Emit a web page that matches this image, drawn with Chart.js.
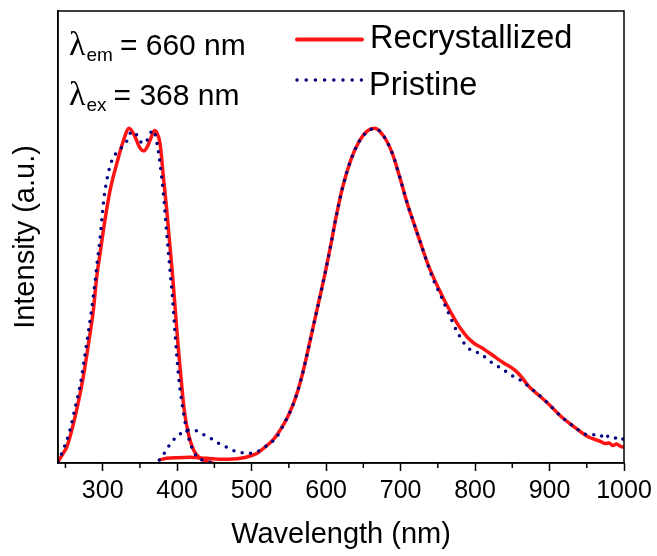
<!DOCTYPE html>
<html>
<head>
<meta charset="utf-8">
<title>Excitation and emission spectra</title>
<script src="https://cdn.jsdelivr.net/npm/chart.js@4.4.1/dist/chart.umd.min.js"></script>
<style>
  html, body { margin: 0; padding: 0; background: #fff; }
  #wrap { position: relative; width: 657px; height: 556px; }
</style>
</head>
<body>
<div id="wrap"><canvas id="spectra"></canvas></div>
<script>
// Wavelengths (nm) and normalised intensities for each spectrum
const recExWl = [240, 247, 252, 265, 274, 281, 287.5, 292, 296.5, 303, 310, 319, 328, 335.5, 343.5, 349, 355.5, 360, 364, 369.5, 373, 377, 381.5, 386, 390, 394, 397.5, 401, 405, 409.5, 415, 422, 431, 440, 449];
const recExI  = [0.004, 0.029, 0.049, 0.158, 0.258, 0.357, 0.457, 0.556, 0.626, 0.725, 0.815, 0.895, 0.964, 1.0, 0.974, 0.945, 0.932, 0.945, 0.966, 0.993, 0.985, 0.954, 0.855, 0.755, 0.656, 0.556, 0.457, 0.357, 0.258, 0.158, 0.088, 0.039, 0.014, 0.004, 0.0];

const priExWl = [240, 248, 256, 263, 270, 278.5, 285, 290, 293, 296, 300, 302.5, 306.5, 311, 317.5, 324.5, 332.5, 339, 345, 350, 354.5, 359, 363, 367, 370, 373, 377, 381.5, 386, 390, 394, 397.5, 402, 406.5, 411, 417.5, 426.5, 435, 449];
const priExI  = [0.004, 0.045, 0.098, 0.165, 0.235, 0.357, 0.457, 0.546, 0.606, 0.66, 0.755, 0.805, 0.855, 0.895, 0.924, 0.94, 0.962, 0.99, 0.982, 0.962, 0.954, 0.962, 0.98, 0.994, 0.985, 0.954, 0.895, 0.805, 0.686, 0.586, 0.487, 0.377, 0.258, 0.178, 0.118, 0.059, 0.019, 0.008, 0.0];

const recEmWl = [376, 386, 400, 418, 440, 462, 485, 498, 508, 516, 530, 543, 551, 559, 567, 575, 583, 591, 599.5, 606, 613, 622, 633, 644, 655.5, 665, 678, 689, 700, 709, 718, 727, 736, 745, 754, 763, 772, 781, 790, 799, 812, 826, 839, 853, 862, 871, 880, 898, 916, 933, 951, 969, 975, 980, 985, 990, 995, 1000];
const recEmI  = [0.009, 0.014, 0.016, 0.017, 0.014, 0.011, 0.014, 0.021, 0.03, 0.044, 0.072, 0.115, 0.15, 0.195, 0.255, 0.33, 0.41, 0.49, 0.576, 0.648, 0.73, 0.822, 0.904, 0.959, 0.992, 1.0, 0.974, 0.924, 0.845, 0.775, 0.715, 0.656, 0.598, 0.55, 0.508, 0.468, 0.432, 0.4, 0.375, 0.357, 0.34, 0.318, 0.298, 0.278, 0.258, 0.232, 0.213, 0.178, 0.138, 0.108, 0.079, 0.064, 0.058, 0.06, 0.052, 0.057, 0.05, 0.047];

const priEmWl = [376, 380, 384, 393, 404, 412, 420, 431, 437, 445, 453, 462.5, 471, 480, 490, 498, 505, 512, 518, 525, 533, 543, 551, 559, 567, 575, 583, 591, 599.5, 606, 613, 622, 633, 644, 655.5, 663, 670, 678, 689, 700, 709, 718, 727, 736, 745, 754, 765, 776, 790, 808, 821, 835, 848, 862, 875, 885, 898, 916, 933, 950, 960, 968, 974, 980, 987, 993, 1000];
const priEmI  = [0.009, 0.02, 0.034, 0.064, 0.087, 0.097, 0.1, 0.09, 0.083, 0.074, 0.062, 0.052, 0.042, 0.034, 0.03, 0.029, 0.032, 0.039, 0.048, 0.059, 0.076, 0.115, 0.15, 0.195, 0.255, 0.33, 0.41, 0.49, 0.576, 0.648, 0.73, 0.822, 0.904, 0.959, 0.99, 0.998, 0.995, 0.974, 0.924, 0.845, 0.775, 0.715, 0.656, 0.596, 0.542, 0.5, 0.445, 0.392, 0.345, 0.325, 0.302, 0.283, 0.263, 0.246, 0.223, 0.205, 0.178, 0.138, 0.108, 0.085, 0.084, 0.078, 0.089, 0.076, 0.074, 0.08, 0.069];

const seriesNames = ['Recrystallized', 'Pristine'];
const majorTicks = [300, 400, 500, 600, 700, 800, 900, 1000];
const minorTicks = [250, 350, 450, 550, 650, 750, 850, 950];

const RED = '#ff1414';
const NAVY = '#000080';
const FONT = '"Liberation Sans", Arial, sans-serif';
const GREEK = '"Liberation Serif", "Times New Roman", serif';

const toPoints = (xs, ys) => xs.map((x, i) => ({ x, y: ys[i] }));

const solid = (data) => ({
  data,
  borderColor: RED,
  borderWidth: 3.5,
  pointRadius: 0,
  cubicInterpolationMode: 'monotone',
  fill: false,
});

const dotted = (data) => ({
  data,
  borderColor: NAVY,
  borderWidth: 3.5,
  borderDash: [0, 8.5],
  borderCapStyle: 'round',
  pointRadius: 0,
  cubicInterpolationMode: 'monotone',
  fill: false,
});

// Box around the plot area plus the short minor ticks on the x axis
const framePlugin = {
  id: 'frame',
  afterDatasetsDraw(chart) {
    const { ctx, chartArea: a, scales: { x } } = chart;
    ctx.save();
    ctx.strokeStyle = '#000';
    ctx.lineWidth = 1.5;
    ctx.strokeRect(a.left, a.top, a.right - a.left, a.bottom - a.top);
    ctx.beginPath();
    minorTicks.forEach(v => {
      const px = x.getPixelForValue(v);
      ctx.moveTo(px, a.bottom);
      ctx.lineTo(px, a.bottom + 5);
    });
    ctx.stroke();
    ctx.restore();
  }
};

// Wavelength notes and the legend in the upper part of the plot
const notesPlugin = {
  id: 'notes',
  afterDraw(chart) {
    const { ctx } = chart;
    ctx.save();
    ctx.fillStyle = '#000';
    ctx.textBaseline = 'alphabetic';
    ctx.textAlign = 'left';

    const note = (y, sub, rest) => {
      ctx.font = `34px ${GREEK}`;
      ctx.fillText('λ', 69, y);
      const subX = 69 + ctx.measureText('λ').width + 1;
      ctx.font = `19px ${FONT}`;
      ctx.fillText(sub, subX, y + 6.5);
      const restX = subX + ctx.measureText(sub).width + 7;
      ctx.font = `30px ${FONT}`;
      ctx.fillText(rest, restX, y);
    };
    note(54.5, 'em', '= 660 nm');
    note(104.5, 'ex', '= 368 nm');

    // legend samples
    ctx.lineCap = 'round';
    ctx.strokeStyle = RED;
    ctx.lineWidth = 4;
    ctx.beginPath();
    ctx.moveTo(297, 39.5);
    ctx.lineTo(362, 39.5);
    ctx.stroke();

    ctx.strokeStyle = NAVY;
    ctx.lineWidth = 3.5;
    ctx.setLineDash([0, 9.2]);
    ctx.beginPath();
    ctx.moveTo(297, 80);
    ctx.lineTo(362, 80);
    ctx.stroke();
    ctx.setLineDash([]);

    ctx.font = `32.5px ${FONT}`;
    ctx.fillText(seriesNames[0], 370, 48);
    ctx.fillText(seriesNames[1], 369, 95);
    ctx.restore();
  }
};

const chart = new Chart(document.getElementById('spectra'), {
  type: 'line',
  data: {
    datasets: [
      dotted(toPoints(priEmWl, priEmI)),
      dotted(toPoints(priExWl, priExI)),
      solid(toPoints(recEmWl, recEmI)),
      solid(toPoints(recExWl, recExI)),
    ]
  },
  options: {
    responsive: true,
    maintainAspectRatio: false,
    animation: false,
    layout: { padding: { top: 11, right: 33, left: 0, bottom: 0 } },
    plugins: {
      legend: { display: false },
      tooltip: { enabled: false },
    },
    scales: {
      x: {
        type: 'linear',
        min: 240,
        max: 1000,
        afterBuildTicks: (scale) => {
          scale.ticks = majorTicks.map(value => ({ value }));
        },
        afterFit: (scale) => { scale.height = 93; },
        ticks: {
          color: '#000',
          font: { family: FONT, size: 25 },
          padding: 5,
          maxRotation: 0,
          autoSkip: false,
          callback: (value) => String(value),
        },
        grid: {
          drawOnChartArea: false,
          drawTicks: true,
          tickLength: 8,
          tickWidth: 1.5,
          tickColor: '#000',
        },
        border: { display: true, color: '#000', width: 1.5 },
        title: {
          display: true,
          text: 'Wavelength (nm)',
          color: '#000',
          font: { family: FONT, size: 29 },
          padding: { top: 0, bottom: 4 },
        },
      },
      y: {
        type: 'linear',
        min: 0,
        max: 1.35,
        afterFit: (scale) => { scale.width = 58; },
        ticks: { display: false },
        grid: { display: false },
        border: { display: true, color: '#000', width: 1.5 },
        title: {
          display: true,
          text: 'Intensity (a.u.)',
          color: '#000',
          font: { family: FONT, size: 29 },
          padding: { top: 9, bottom: 0 },
        },
      },
    },
  },
  plugins: [framePlugin, notesPlugin],
});
</script>
</body>
</html>
